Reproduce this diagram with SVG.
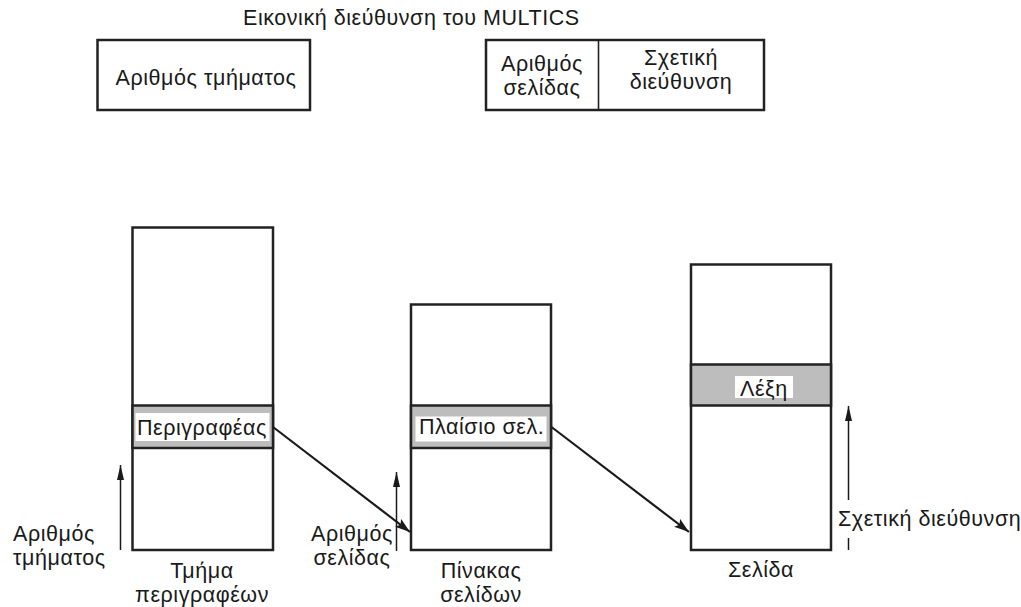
<svg xmlns="http://www.w3.org/2000/svg" width="1021" height="607" viewBox="0 0 1021 607">
<style>
text{font-family:"Liberation Sans",Arial,sans-serif;font-size:21.5px;letter-spacing:0.55px;fill:#1a1a1a}
.box{fill:#fff;stroke:#222;stroke-width:2.5}
.band{fill:#bdbdbd;stroke:#222;stroke-width:2.5}
.lbl{fill:#fff;stroke:none}
.m{text-anchor:middle}
.conn{stroke:#1a1a1a;stroke-width:2.2;fill:none}
.vert{stroke:#1a1a1a;stroke-width:1.5;fill:none}
</style>
<defs>
<marker id="arr" markerWidth="16" markerHeight="10" refX="15" refY="5" orient="auto" markerUnits="userSpaceOnUse">
<path d="M0,0 L15,5 L0,10 L3,5 z" fill="#1a1a1a"/>
</marker>
<marker id="arrS" markerWidth="16" markerHeight="8" refX="15" refY="4" orient="auto" markerUnits="userSpaceOnUse">
<path d="M0,0.5 L15,4 L0,7.5 z" fill="#1a1a1a"/>
</marker>
</defs>
<text id="title" x="243" y="25">Εικονική διεύθυνση του MULTICS</text>
<g id="seg-number-field">
<rect class="box" x="97.5" y="40" width="212.5" height="70" stroke-width="2"/>
<text class="m" x="206" y="85">Αριθμός τμήματος</text>
</g>
<g id="page-offset-field">
<rect class="box" x="486" y="40" width="278" height="70" stroke-width="2"/>
<line x1="598.5" y1="40" x2="598.5" y2="110" stroke="#222" stroke-width="1.6"/>
<text class="m" x="542" y="71">Αριθμός</text>
<text class="m" x="542" y="95">σελίδας</text>
<text class="m" x="681" y="65">Σχετική</text>
<text class="m" x="681" y="89">διεύθυνση</text>
</g>
<g id="descriptor-segment">
<rect class="box" x="132.5" y="227.5" width="140.5" height="322.5"/>
<rect class="band" x="132.5" y="405.5" width="140.5" height="42.5"/>
<rect class="lbl" x="135.5" y="413" width="134" height="28"/>
<text x="137" y="435">Περιγραφέας</text>
<text class="m" x="202" y="578">Τμήμα</text>
<text class="m" x="202" y="602">περιγραφέων</text>
</g>
<g id="page-table">
<rect class="box" x="411" y="304.5" width="140" height="245.5"/>
<rect class="band" x="411" y="405.5" width="140" height="42.5"/>
<rect class="lbl" x="415.5" y="416.5" width="131" height="25"/>
<text x="419" y="434">Πλαίσιο σελ.</text>
<text class="m" x="481" y="578">Πίνακας</text>
<text class="m" x="481" y="602">σελίδων</text>
</g>
<g id="page">
<rect class="box" x="691" y="264.5" width="140" height="285.5"/>
<rect class="band" x="691" y="364.5" width="140" height="41"/>
<rect class="lbl" x="735" y="376" width="58" height="22"/>
<text x="740" y="396">Λέξη</text>
<text class="m" x="761" y="577">Σελίδα</text>
</g>
<g id="labels">
<text x="13" y="541">Αριθμός</text>
<text x="13" y="565">τμήματος</text>
<text class="m" x="352" y="541">Αριθμός</text>
<text class="m" x="352" y="565">σελίδας</text>
<text x="838" y="526">Σχετική διεύθυνση</text>
</g>
<g id="connectors">
<line class="conn" x1="273" y1="427" x2="410" y2="532" marker-end="url(#arr)"/>
<line class="conn" x1="551.5" y1="427" x2="689" y2="532" marker-end="url(#arr)"/>
<line class="vert" x1="120.5" y1="550" x2="120.5" y2="465" marker-end="url(#arrS)"/>
<line class="vert" x1="396.5" y1="551" x2="396.5" y2="472" marker-end="url(#arrS)"/>
<line class="vert" x1="848.5" y1="500" x2="848.5" y2="406" marker-end="url(#arrS)"/>
<line class="vert" x1="848.5" y1="538" x2="848.5" y2="550"/>
</g>
</svg>
